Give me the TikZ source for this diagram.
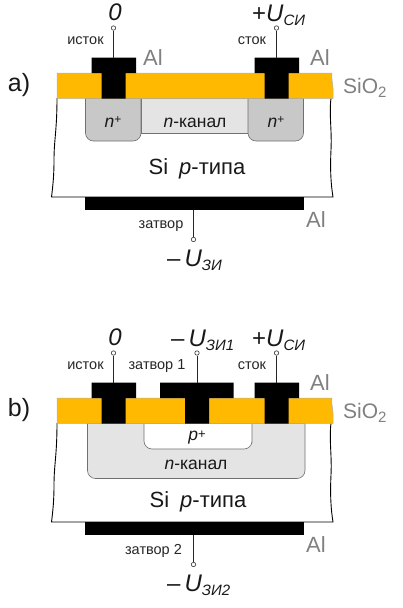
\documentclass[tikz,border=0pt]{standalone}
\usepackage{fontspec}
\setmainfont{Liberation Sans}
\definecolor{oxide}{HTML}{FFB900}
\definecolor{algray}{HTML}{808080}
\definecolor{nplus}{HTML}{C8C8C8}
\definecolor{nchan}{HTML}{E4E4E4}
\definecolor{edge}{HTML}{707070}
\newcommand{\volt}[2]{\textit{#1}{\fontsize{15}{15}\selectfont\raisebox{-4pt}{\textit{#2}}}}
\tikzset{
  x=1pt,y=-1pt,
  oxidebox/.style={fill=oxide,draw=gray!60,line width=.5pt},
  metal/.style={fill=black,draw=none},
  nplusbox/.style={fill=nplus,draw=edge,line width=.6pt},
  nchanbox/.style={fill=nchan,draw=edge,line width=.6pt},
  wire/.style={line width=.9pt,black!85},
  term/.style={circle,draw=black!80,fill=white,line width=.6pt,inner sep=0pt,minimum size=4.4pt},
  bulk/.style={line width=.9pt,black},
  pin/.style={font=\fontsize{14.5}{16}\selectfont,text=black!85,inner sep=0pt},
  altxt/.style={font=\fontsize{22}{24}\selectfont,text=algray,inner sep=0pt},
  vlab/.style={font=\fontsize{24}{26}\selectfont,inner sep=0pt,text=black!90},
  body/.style={font=\fontsize{22}{24}\selectfont,inner sep=0pt,text=black!90},
  chan/.style={font=\fontsize{17.5}{20}\selectfont,inner sep=0pt,text=black!90},
  side/.style={font=\fontsize{25}{27}\selectfont,inner sep=0pt,text=black!90}
}
\begin{document}
\begin{tikzpicture}
\useasboundingbox (0,0) rectangle (402,608);
% ===== a =====
\draw[bulk] (57,98) .. controls (57,130) and (54,140) .. (54,160) .. controls (54,175) and (53,185) .. (51.5,197) -- (333,197) .. controls (331,185) and (330,170) .. (331,150) .. controls (332,130) and (329,115) .. (331,98);
\fill[nchan,draw=edge,line width=.6pt] (141,98.5) rectangle (248,133);
\draw[nplusbox,rounded corners=8pt] (85.5,98.5) [sharp corners] -- (85.5,110) [rounded corners=8pt] -- (85.5,141) -- (141,141) [sharp corners] -- (141,98.5) -- cycle;
\draw[nplusbox,rounded corners=8pt] (248,98.5) -- (248,141) -- (303.5,141) -- (303.5,110) [sharp corners] -- (303.5,98.5) -- cycle;
\draw[oxidebox] (57,73) -- (332,73) .. controls (331,80) and (334,85) .. (333,98.5) -- (57,98.5) -- cycle;
\fill[metal] (91.5,57.7) rectangle (136,73) (101.5,73) rectangle (125.5,98.5);
\fill[metal] (254.5,57.7) rectangle (299,73) (264.5,73) rectangle (288.5,98.5);
\fill[metal] (84.5,197) rectangle (303.5,210);
\node[term] (sa) at (113.5,28) {};
\node[term] (da) at (276.5,28) {};
\node[term] (ga) at (193.5,239.5) {};
\coordinate (sam) at (113.5,58); \coordinate (dam) at (276.5,58); \coordinate (gam) at (193.5,210);
\draw[wire] (sa) -- (sam); \draw[wire] (da) -- (dam); \draw[wire] (ga) -- (gam);
\node[vlab] (a0) at (115,12) {\textit{0}};
\node[vlab,anchor=base west] (au) at (252,21) {+\volt{U}{СИ}};
\node[vlab,anchor=base west] (ag) at (167,266) {–\hspace{4pt}\volt{U}{ЗИ}};
\node[pin] (ai) at (85.5,41) {исток};
\node[pin] (ac) at (252,41) {сток};
\node[pin] (az) at (161,226.5) {затвор};
\node[altxt] (al1) at (153,57.5) {Al};
\node[altxt] (al2) at (320,57.5) {Al};
\node[altxt] (al3) at (316,220) {Al};
\node[altxt,anchor=base west] (ox) at (343,93) {\fontsize{21}{23}\selectfont SiO\raisebox{-4pt}{\fontsize{15}{15}\selectfont 2}};
\node[side] (la) at (19,85) {a)};
\node[chan,anchor=base] (n1) at (113,127) {\textit{n}\raisebox{4pt}{\fontsize{12}{12}\selectfont +}};
\node[chan,anchor=base] (n2) at (276,127) {\textit{n}\raisebox{4pt}{\fontsize{12}{12}\selectfont +}};
\node[chan,anchor=base] (nc) at (195,127) {\textit{n}-канал};
\node[body,anchor=base] (si) at (197,174) {Si\hspace{11pt}\textit{p}-типа};
% ===== b =====
\draw[bulk] (57,423) .. controls (57,455) and (54,465) .. (54,485) .. controls (54,500) and (53,510) .. (51.5,522) -- (333,522) .. controls (331,510) and (330,495) .. (331,475) .. controls (332,455) and (329,440) .. (331,423);
\draw[nchanbox,rounded corners=8pt] (87.5,423.5) -- (87.5,478.5) -- (305,478.5) -- (305,435) [sharp corners] -- (305,423.5) -- cycle;
\draw[fill=white,draw=edge,line width=.6pt,rounded corners=8pt] (144,423.5) -- (144,449) -- (252,449) -- (252,435) [sharp corners] -- (252,423.5) -- cycle;
\draw[oxidebox] (57,398) -- (332,398) .. controls (331,405) and (334,410) .. (333,423.5) -- (57,423.5) -- cycle;
\fill[metal] (91.5,382.5) rectangle (136,398) (101.5,398) rectangle (125.5,423.5);
\fill[metal] (160,382.5) rectangle (233.5,398) (185,398) rectangle (209,423.5);
\fill[metal] (254.5,382.5) rectangle (299,398) (264.5,398) rectangle (288.5,423.5);
\fill[metal] (84.5,522) rectangle (303.5,535);
\node[term] (sb) at (113.5,353) {};
\node[term] (gb) at (197,353) {};
\node[term] (db) at (276.5,353) {};
\node[term] (hb) at (193.5,564.5) {};
\coordinate (sbm) at (113.5,383); \coordinate (gbm) at (197,383); \coordinate (dbm) at (276.5,383); \coordinate (hbm) at (193.5,535);
\draw[wire] (sb) -- (sbm); \draw[wire] (gb) -- (gbm); \draw[wire] (db) -- (dbm); \draw[wire] (hb) -- (hbm);
\node[vlab] (b0) at (115,337) {\textit{0}};
\node[vlab,anchor=base west] (bg) at (171,346) {–\hspace{4pt}\volt{U}{ЗИ1}};
\node[vlab,anchor=base west] (bu) at (252,346) {+\volt{U}{СИ}};
\node[vlab,anchor=base west] (bh) at (167,591) {–\hspace{4pt}\volt{U}{ЗИ2}};
\node[pin] (bi) at (85.5,366) {исток};
\node[pin] (bz) at (157,366) {затвор 1};
\node[pin] (bc) at (252,366) {сток};
\node[pin] (bz2) at (153.5,551) {затвор 2};
\node[altxt] (bl1) at (320,382.5) {Al};
\node[altxt] (bl3) at (316,545) {Al};
\node[altxt,anchor=base west] (box) at (343,418) {\fontsize{21}{23}\selectfont SiO\raisebox{-4pt}{\fontsize{15}{15}\selectfont 2}};
\node[side] (lb) at (19,410) {b)};
\node[chan,anchor=base] (pp) at (197,440.5) {\textit{p}\raisebox{2pt}{\fontsize{13}{13}\selectfont +}};
\node[chan,anchor=base] (nb) at (196,469) {\textit{n}-канал};
\node[body,anchor=base] (sib) at (198,507) {Si\hspace{11pt}\textit{p}-типа};
\end{tikzpicture}
\end{document}
